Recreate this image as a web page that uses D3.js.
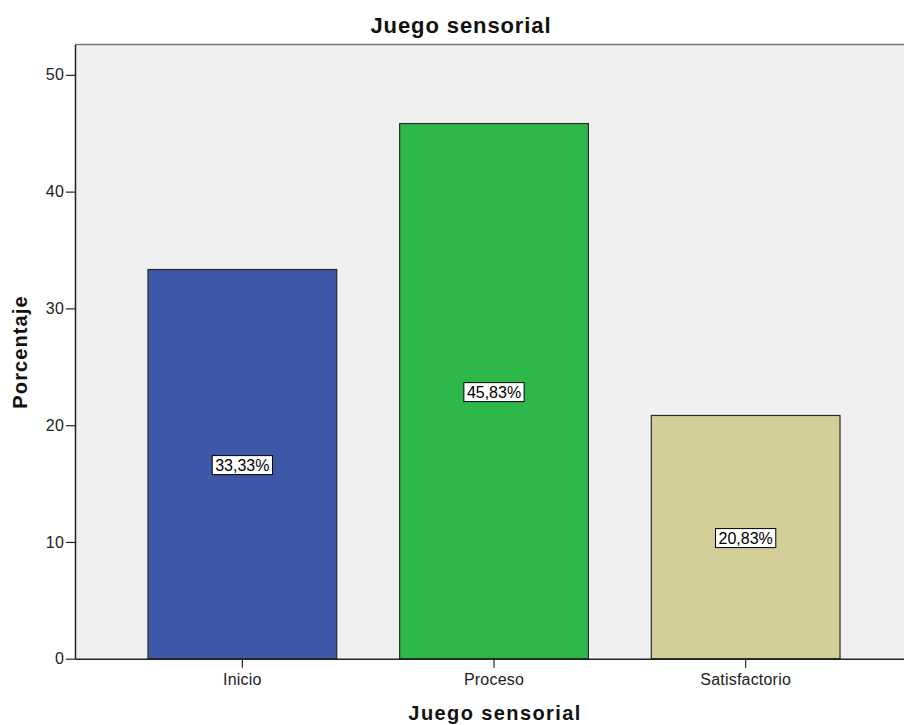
<!DOCTYPE html>
<html>
<head>
<meta charset="utf-8">
<script src="https://cdn.jsdelivr.net/npm/d3@7"></script>
<style>
  body { margin: 0; background: #fff; }
  svg { display: block; font-family: "Liberation Sans", Arial, sans-serif; }
</style>
</head>
<body>
<div id="chart"></div>
<script>
// chart data
const categories = ["Inicio", "Proceso", "Satisfactorio"];
const percentages = [33.33, 45.83, 20.83];
const barColors = ["#3e58a8", "#2eb84a", "#d3ce97"];
const yTicks = [0, 10, 20, 30, 40, 50];

const width = 904, height = 725;
const plot = { left: 75, top: 44.5, right: 913, bottom: 658.7 };

const svg = d3.select("#chart").append("svg")
    .attr("width", width)
    .attr("height", height);

const x = d3.scaleBand()
    .domain(categories)
    .range([plot.left, plot.right])
    .paddingInner(0.25)
    .paddingOuter(0.29);

const y = d3.scaleLinear()
    .domain([0, 52.6])
    .range([plot.bottom, plot.top]);

// plot background
svg.append("rect")
    .attr("x", plot.left)
    .attr("y", plot.top)
    .attr("width", plot.right - plot.left)
    .attr("height", plot.bottom - plot.top)
    .attr("fill", "#f0f0f0");

// top frame line
svg.append("line")
    .attr("x1", plot.left).attr("x2", plot.right)
    .attr("y1", plot.top).attr("y2", plot.top)
    .attr("stroke", "#777").attr("stroke-width", 1.5);

// bars
svg.append("g").selectAll("rect")
    .data(categories)
    .join("rect")
    .attr("x", d => x(d))
    .attr("y", (d, i) => y(percentages[i]))
    .attr("width", x.bandwidth())
    .attr("height", (d, i) => y(0) - y(percentages[i]))
    .attr("fill", (d, i) => barColors[i])
    .attr("stroke", "#2a2a2a")
    .attr("stroke-width", 1.2);

// value labels
const fmt = v => v.toFixed(2).replace(".", ",") + "%";
const labels = svg.append("g").selectAll("g")
    .data(categories)
    .join("g")
    .attr("transform", (d, i) => `translate(${x(d) + x.bandwidth() / 2},${(y(0) + y(percentages[i])) / 2 + 1})`);

labels.append("text")
    .attr("text-anchor", "middle")
    .attr("dy", "0.36em")
    .attr("font-size", 16)
    .attr("fill", "#000")
    .text((d, i) => fmt(percentages[i]))
    .each(function () {
        const b = this.getBBox();
        d3.select(this.parentNode).insert("rect", "text")
            .attr("x", b.x - 3)
            .attr("y", -9.5)
            .attr("width", b.width + 6)
            .attr("height", 19)
            .attr("fill", "#fff")
            .attr("stroke", "#000")
            .attr("stroke-width", 1);
    });

// axes
const yAxis = svg.append("g")
    .attr("transform", `translate(${plot.left},0)`)
    .call(d3.axisLeft(y).tickValues(yTicks).tickSize(9).tickSizeOuter(0).tickPadding(2));

const xAxis = svg.append("g")
    .attr("transform", `translate(0,${plot.bottom})`)
    .call(d3.axisBottom(x).tickSize(9).tickSizeOuter(0).tickPadding(5.5));

[yAxis, xAxis].forEach(a => {
    a.select(".domain").attr("stroke", "#222").attr("stroke-width", 1.5);
    a.selectAll(".tick line").attr("stroke", "#222").attr("stroke-width", 1.2);
    a.selectAll("text")
        .attr("font-family", "'Liberation Sans', Arial, sans-serif")
        .attr("font-size", 16)
        .attr("letter-spacing", 0.2)
        .attr("fill", "#222");
});

// titles
svg.append("text")
    .attr("x", 461).attr("y", 33)
    .attr("text-anchor", "middle")
    .attr("font-size", 22).attr("font-weight", "bold")
    .attr("letter-spacing", 0.9)
    .attr("fill", "#111")
    .text("Juego sensorial");

svg.append("text")
    .attr("x", 495).attr("y", 720)
    .attr("text-anchor", "middle")
    .attr("font-size", 20).attr("font-weight", "bold")
    .attr("letter-spacing", 1.4)
    .attr("fill", "#111")
    .text("Juego sensorial");

svg.append("text")
    .attr("transform", "translate(27,352) rotate(-90)")
    .attr("text-anchor", "middle")
    .attr("font-size", 20).attr("font-weight", "bold")
    .attr("letter-spacing", 1.1)
    .attr("fill", "#111")
    .text("Porcentaje");
</script>
</body>
</html>
